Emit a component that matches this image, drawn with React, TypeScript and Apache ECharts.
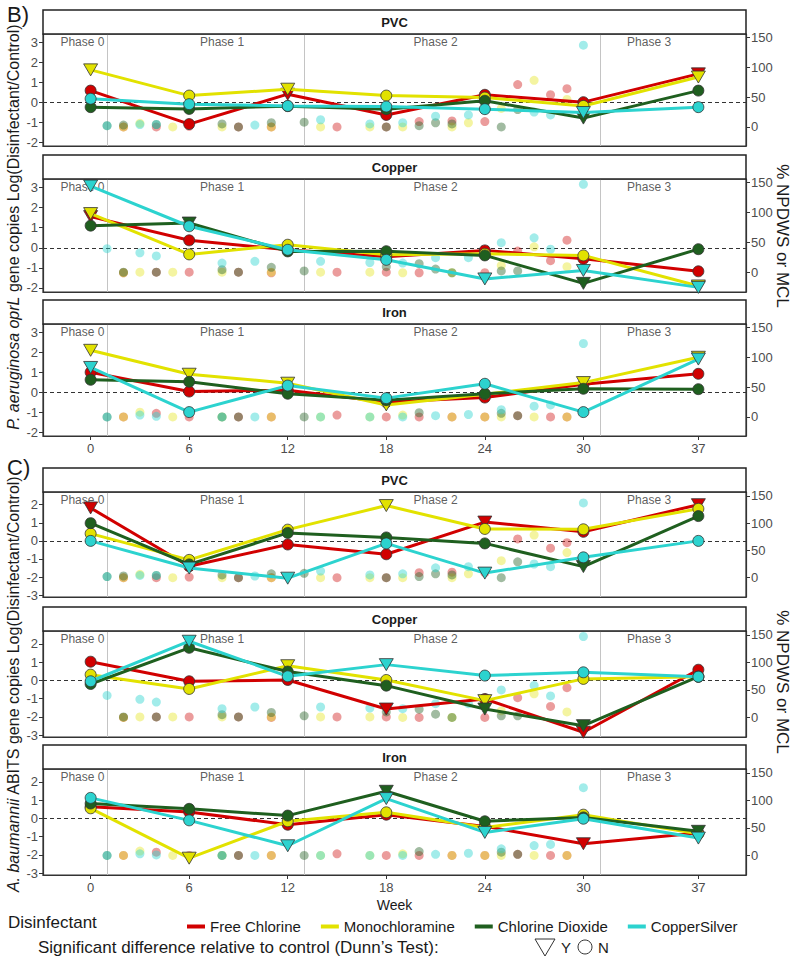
import React, { useEffect, useRef } from "react";
import * as echarts from "echarts";

const weeks = [0, 6, 12, 18, 24, 30, 37];
const disinfectants = ["Free Chlorine", "Monochloramine", "Chlorine Dioxide", "CopperSilver"];
const lineColors = ["#d10000", "#e2e200", "#1f5f1f", "#2cd3cf"];
const dotColors = ["rgba(209,30,30,0.55)", "rgba(230,230,40,0.55)", "rgba(40,100,40,0.55)", "rgba(44,211,207,0.55)"];
const materials = ["PVC", "Copper", "Iron"];
const phaseNames = ["Phase 0", "Phase 1", "Phase 2", "Phase 3"];
const phaseLabelWeeks = [-0.5, 8, 21, 34];
const phaseBoundaryWeeks = [1, 13, 31];
const xTicks = [0, 6, 12, 18, 24, 30, 37];
const leftTicksB = [-2, -1, 0, 1, 2, 3];
const leftTicksC = [-3, -2, -1, 0, 1, 2];
const rightTicks = [0, 50, 100, 150];

// ---- B) P. aeruginosa oprL : Log(Disinfectant/Control) ----
const bPvcFC = [0.58, -1.1, 0.4, -0.64, 0.37, 0.0, 1.42];
const bPvcFCSig = "NNYNNNY";
const bPvcMC = [1.62, 0.33, 0.65, 0.33, 0.23, -0.19, 1.26];
const bPvcMCSig = "YNYNNNY";
const bPvcCD = [-0.25, -0.34, -0.2, -0.35, 0.07, -0.8, 0.58];
const bPvcCDSig = "NNNNNYN";
const bPvcCS = [0.17, -0.1, -0.19, -0.22, -0.35, -0.52, -0.25];
const bPvcCSSig = "NNNNNYN";

const bCuFC = [1.55, 0.37, -0.1, -0.45, -0.13, -0.55, -1.17];
const bCuFCSig = "YNNNNNN";
const bCuMC = [1.7, -0.33, 0.15, -0.35, -0.3, -0.38, -1.9];
const bCuMCSig = "YNNNNNY";
const bCuCD = [1.1, 1.23, -0.18, -0.17, -0.38, -1.77, -0.07];
const bCuCDSig = "NYNNNYN";
const bCuCS = [3.07, 1.07, -0.1, -0.6, -1.55, -1.13, -1.97];
const bCuCSSig = "YNNNYYY";

const bFeFC = [1.0, 0.03, 0.1, -0.5, -0.27, 0.4, 0.92];
const bFeFCSig = "NNNNNNN";
const bFeMC = [2.1, 0.9, 0.45, -0.64, -0.1, 0.48, 1.75];
const bFeMCSig = "YYYYNYY";
const bFeCD = [0.62, 0.52, -0.08, -0.4, -0.08, 0.17, 0.15];
const bFeCDSig = "NNNNNNN";
const bFeCS = [1.24, -1.0, 0.33, -0.3, 0.42, -1.0, 1.66];
const bFeCSSig = "YNNNNNY";

// ---- C) A. baumannii ABITS : Log(Disinfectant/Control) ----
const cPvcFC = [1.82, -1.4, -0.2, -0.74, 1.04, 0.5, 2.0];
const cPvcFCSig = "YNNNYNY";
const cPvcMC = [0.4, -1.05, 0.62, 1.95, 0.66, 0.64, 1.77];
const cPvcMCSig = "NNNYNNN";
const cPvcCD = [0.98, -1.3, 0.44, 0.19, -0.14, -1.42, 1.37];
const cPvcCDSig = "NNNNNYN";
const cPvcCS = [0.0, -1.5, -2.06, -0.14, -1.78, -0.91, 0.0];
const cPvcCSSig = "NYYNYNN";

const cCuFC = [1.02, -0.05, 0.02, -1.57, -1.02, -2.84, 0.58];
const cCuFCSig = "NNNYNYN";
const cCuMC = [0.31, -0.47, 0.8, 0.02, -1.11, 0.08, 0.2];
const cCuMCSig = "NNYNYNN";
const cCuCD = [-0.2, 1.78, 0.48, -0.29, -1.57, -2.48, 0.2];
const cCuCDSig = "NNNNYYN";
const cCuCS = [-0.05, 2.14, 0.22, 0.86, 0.26, 0.44, 0.2];
const cCuCSSig = "NYNYNNN";

const cFeFC = [0.63, 0.35, -0.35, 0.2, -0.44, -1.39, -0.8];
const cFeFCSig = "NNNNNYN";
const cFeMC = [0.55, -2.18, -0.16, 0.33, -0.5, 0.2, -0.85];
const cFeMCSig = "NYNNNNN";
const cFeCD = [0.81, 0.52, 0.15, 1.48, -0.16, 0.05, -0.71];
const cFeCDSig = "NNNYNNY";
const cFeCS = [1.12, -0.11, -1.5, 1.08, -0.77, -0.02, -1.08];
const cFeCSSig = "NNYYYNY";

// ---- % NPDWS or MCL (water quality) : [week, value] ----
const pvcDotsFC = [[2, 0], [4, 0], [6, 1], [9, 0], [11, 0], [15, 0], [18, 0], [20, 9], [22, 10], [24, 9], [26, 71], [28, 54], [29, 64]];
const pvcDotsMC = [[2, 0], [3, 6], [5, 0], [8, 0], [11, 0], [14, 0], [17, 0], [19, 0], [22, 0], [23, 7], [25, 31], [27, 78], [29, 46]];
const pvcDotsCD = [[1, 2], [2, 3], [4, 4], [8, 5], [9, 0], [11, 7], [13, 8], [18, 0], [20, 2], [21, 7], [22, 5], [25, 0], [26, 29]];
const pvcDotsCS = [[1, 2], [3, 4], [4, 4], [10, 3], [14, 12], [17, 5], [19, 7], [21, 18], [23, 20], [27, 25], [28, 20], [30, 137]];

const cuDotsFC = [[2, 0], [4, 1], [6, 1], [9, 1], [11, 0], [15, 1], [18, 1], [20, 0], [24, 0], [26, 36], [28, 20], [29, 54]];
const cuDotsMC = [[2, 0], [3, 1], [5, 1], [8, 1], [11, 1], [14, 1], [17, 1], [19, 0], [22, 0], [25, 12], [27, 43], [29, 10]];
const cuDotsCD = [[2, 1], [4, 1], [8, 5], [9, 1], [11, 9], [13, 3], [18, 10], [20, 15], [21, 6], [22, 0], [25, 3], [26, 3]];
const cuDotsCS = [[1, 40], [3, 33], [4, 28], [8, 16], [10, 19], [14, 19], [17, 17], [19, 16], [21, 25], [23, 25], [25, 50], [27, 58], [28, 39], [30, 147]];

const feDotsFC = [[2, 0], [4, 6], [6, 0], [9, 0], [11, 0], [15, 3], [18, 0], [20, 0], [22, 0], [24, 0], [26, 2], [28, 0], [29, 0]];
const feDotsMC = [[2, 0], [3, 8], [5, 0], [8, 0], [11, 0], [14, 0], [17, 0], [19, 3], [22, 0], [24, 0], [25, 0], [27, 0], [29, 0]];
const feDotsCD = [[1, 0], [8, 0], [9, 0], [13, 0], [20, 7], [25, 6], [26, 2]];
const feDotsCS = [[1, 0], [3, 3], [4, 1], [8, 0], [10, 0], [14, 0], [17, 0], [19, 0], [21, 2], [23, 4], [25, 12], [27, 18], [28, 20], [30, 123]];

const FONT = "'Liberation Sans', Arial, Helvetica, sans-serif";

type Panel = {
  material: string;
  lines: [number[], string][];
  dots: number[][][];
  section: "B" | "C";
};

const panels: Panel[] = [
  { section: "B", material: materials[0], lines: [[bPvcFC, bPvcFCSig], [bPvcMC, bPvcMCSig], [bPvcCD, bPvcCDSig], [bPvcCS, bPvcCSSig]], dots: [pvcDotsFC, pvcDotsMC, pvcDotsCD, pvcDotsCS] },
  { section: "B", material: materials[1], lines: [[bCuFC, bCuFCSig], [bCuMC, bCuMCSig], [bCuCD, bCuCDSig], [bCuCS, bCuCSSig]], dots: [cuDotsFC, cuDotsMC, cuDotsCD, cuDotsCS] },
  { section: "B", material: materials[2], lines: [[bFeFC, bFeFCSig], [bFeMC, bFeMCSig], [bFeCD, bFeCDSig], [bFeCS, bFeCSSig]], dots: [feDotsFC, feDotsMC, feDotsCD, feDotsCS] },
  { section: "C", material: materials[0], lines: [[cPvcFC, cPvcFCSig], [cPvcMC, cPvcMCSig], [cPvcCD, cPvcCDSig], [cPvcCS, cPvcCSSig]], dots: [pvcDotsFC, pvcDotsMC, pvcDotsCD, pvcDotsCS] },
  { section: "C", material: materials[1], lines: [[cCuFC, cCuFCSig], [cCuMC, cCuMCSig], [cCuCD, cCuCDSig], [cCuCS, cCuCSSig]], dots: [cuDotsFC, cuDotsMC, cuDotsCD, cuDotsCS] },
  { section: "C", material: materials[2], lines: [[cFeFC, cFeFCSig], [cFeMC, cFeMCSig], [cFeCD, cFeCDSig], [cFeCS, cFeCSSig]], dots: [feDotsFC, feDotsMC, feDotsCD, feDotsCS] },
];

// layout (pixels)
const GRID_LEFT = 43;
const GRID_RIGHT = 45;
const STRIP_H = 24;
const layout = [
  { top: 34, height: 112 },
  { top: 179, height: 113 },
  { top: 324, height: 112 },
  { top: 492, height: 105 },
  { top: 631, height: 106 },
  { top: 769, height: 106 },
];
const rangeB = { lmin: -2.2, lmax: 3.42, rmin: -32, rmax: 155.7 };
const rangeC = { lmin: -3.1, lmax: 2.7, rmin: -35.5, rmax: 157 };

function buildOption() {
  const grid: any[] = [];
  const xAxis: any[] = [];
  const yAxis: any[] = [];
  const series: any[] = [];
  const graphic: any[] = [];

  const tickLabel = { fontSize: 13, color: "#4d4d4d", fontFamily: FONT };

  panels.forEach((p, i) => {
    const l = layout[i];
    const r = p.section === "B" ? rangeB : rangeC;
    const isBottom = i === 2 || i === 5;
    grid.push({
      left: GRID_LEFT,
      right: GRID_RIGHT,
      top: l.top,
      height: l.height,
      show: true,
      borderColor: "#333",
      borderWidth: 1.2,
      containLabel: false,
      outerBoundsMode: "none",
    });
    xAxis.push({
      type: "value",
      gridIndex: i,
      min: -2.9,
      max: 39.9,
      splitLine: { show: false },
      axisLine: { show: true, onZero: false, lineStyle: { color: "#333", width: 1.2 } },
      axisTick: { show: isBottom, customValues: xTicks, length: 4, lineStyle: { color: "#333" } },
      axisLabel: { show: isBottom, customValues: xTicks, margin: 6, ...tickLabel },
      name: i === 5 ? "Week" : "",
      nameLocation: "middle",
      nameGap: 23,
      nameTextStyle: { fontSize: 14, color: "#1a1a1a", fontFamily: FONT },
    });
    const lt = p.section === "B" ? leftTicksB : leftTicksC;
    yAxis.push({
      type: "value",
      gridIndex: i,
      position: "left",
      min: r.lmin,
      max: r.lmax,
      splitLine: { show: false },
      axisLine: { show: true, onZero: false, lineStyle: { color: "#333", width: 1.2 } },
      axisTick: { show: true, customValues: lt, length: 4, lineStyle: { color: "#333" } },
      axisLabel: { show: true, customValues: lt, margin: 5, ...tickLabel },
    });
    yAxis.push({
      type: "value",
      gridIndex: i,
      position: "right",
      min: r.rmin,
      max: r.rmax,
      splitLine: { show: false },
      axisLine: { show: true, onZero: false, lineStyle: { color: "#333", width: 1.2 } },
      axisTick: { show: true, customValues: rightTicks, length: 4, lineStyle: { color: "#333" } },
      axisLabel: { show: true, customValues: rightTicks, margin: 5, ...tickLabel },
    });

    // phase labels + phase boundaries + zero line
    const pxPerUnit = l.height / (r.lmax - r.lmin);
    const labelY = r.lmax - 8 / pxPerUnit;
    series.push({
      type: "scatter",
      name: "phase-" + i,
      xAxisIndex: i,
      yAxisIndex: 2 * i,
      symbol: "circle",
      symbolSize: 1,
      itemStyle: { color: "transparent" },
      z: 1,
      silent: true,
      data: phaseNames.map((n, k) => ({ name: n, value: [phaseLabelWeeks[k], labelY] })),
      label: { show: true, position: "inside", formatter: "{b}", fontSize: 12, color: "#333", fontFamily: FONT },
      markLine: {
        silent: true,
        symbol: "none",
        label: { show: false },
        z: 1,
        data: [
          ...phaseBoundaryWeeks.map((w) => ({ xAxis: w, lineStyle: { color: "#c4c4c4", width: 1, type: "solid" } })),
          { yAxis: 0, lineStyle: { color: "#333", width: 1, type: [4, 3] } },
        ],
      },
    });

    // water-quality dots (right axis)
    p.dots.forEach((d, k) => {
      series.push({
        type: "scatter",
        name: disinfectants[k] + " (% NPDWS)",
        xAxisIndex: i,
        yAxisIndex: 2 * i + 1,
        symbolSize: 9,
        z: 2,
        itemStyle: { color: dotColors[k] },
        data: d,
      });
    });

    // gene copy ratio lines (left axis)
    p.lines.forEach(([vals, sig], k) => {
      series.push({
        type: "line",
        name: disinfectants[k],
        xAxisIndex: i,
        yAxisIndex: 2 * i,
        z: 3 + k,
        showAllSymbol: true,
        lineStyle: { color: lineColors[k], width: 3 },
        itemStyle: { color: lineColors[k], borderColor: "#333", borderWidth: 0.8 },
        data: weeks.map((w, j) => {
          const y = sig[j] === "Y";
          return {
            value: [w, vals[j]],
            symbol: y ? "triangle" : "circle",
            symbolRotate: y ? 180 : 0,
            symbolSize: y ? [14, 12] : 11,
          };
        }),
      });
    });

    // strip header
    graphic.push({
      type: "rect",
      shape: { x: GRID_LEFT, y: l.top - STRIP_H, width: 791 - GRID_LEFT - GRID_RIGHT, height: STRIP_H },
      style: { fill: "#ffffff", stroke: "#222", lineWidth: 1.5 },
      z: 10,
    });
    graphic.push({
      type: "text",
      x: GRID_LEFT + (791 - GRID_LEFT - GRID_RIGHT) / 2,
      y: l.top - STRIP_H / 2,
      style: { text: p.material, fontSize: 13, fontWeight: "bold", fill: "#1a1a1a", fontFamily: FONT, align: "center", verticalAlign: "middle" },
      z: 11,
    });
  });

  // section labels
  graphic.push({ type: "text", x: 7, y: 14, style: { text: "B)", fontSize: 22, fill: "#1a1a1a", fontFamily: FONT, verticalAlign: "middle" } });
  graphic.push({ type: "text", x: 7, y: 467, style: { text: "C)", fontSize: 22, fill: "#1a1a1a", fontFamily: FONT, verticalAlign: "middle" } });

  // left axis titles
  const rich = { i: { fontStyle: "italic", fontSize: 16, fontFamily: FONT, fill: "#1a1a1a" } };
  graphic.push({
    type: "text",
    x: 13,
    y: 227,
    rotation: Math.PI / 2,
    style: { text: "{i|P. aeruginosa} {i|oprL} gene copies Log(Disinfectant/Control)", rich, fontSize: 16, fill: "#1a1a1a", fontFamily: FONT, align: "center", verticalAlign: "middle" },
  });
  graphic.push({
    type: "text",
    x: 13,
    y: 684,
    rotation: Math.PI / 2,
    style: { text: "{i|A. baumannii} ABITS gene copies Log(Disinfectant/Control)", rich, fontSize: 16, fill: "#1a1a1a", fontFamily: FONT, align: "center", verticalAlign: "middle" },
  });
  // right axis titles
  graphic.push({
    type: "text", x: 782, y: 236, rotation: -Math.PI / 2,
    style: { text: "% NPDWS or MCL", fontSize: 17, fill: "#1a1a1a", fontFamily: FONT, align: "center", verticalAlign: "middle" },
  });
  graphic.push({
    type: "text", x: 782, y: 682, rotation: -Math.PI / 2,
    style: { text: "% NPDWS or MCL", fontSize: 17, fill: "#1a1a1a", fontFamily: FONT, align: "center", verticalAlign: "middle" },
  });

  // legend titles and significance key
  graphic.push({ type: "text", x: 8, y: 922, style: { text: "Disinfectant", fontSize: 17, fill: "#1a1a1a", fontFamily: FONT, verticalAlign: "middle" } });
  graphic.push({ type: "text", x: 38, y: 947, style: { text: "Significant difference relative to control (Dunn\u2019s Test):", fontSize: 17, fill: "#1a1a1a", fontFamily: FONT, verticalAlign: "middle" } });
  graphic.push({ type: "polygon", shape: { points: [[535, 939], [555, 939], [545, 956]] }, style: { fill: "none", stroke: "#333", lineWidth: 1 } });
  graphic.push({ type: "text", x: 561, y: 947, style: { text: "Y", fontSize: 15, fill: "#1a1a1a", fontFamily: FONT, verticalAlign: "middle" } });
  graphic.push({ type: "circle", shape: { cx: 585, cy: 947, r: 7 }, style: { fill: "none", stroke: "#333", lineWidth: 1 } });
  graphic.push({ type: "text", x: 598, y: 947, style: { text: "N", fontSize: 15, fill: "#1a1a1a", fontFamily: FONT, verticalAlign: "middle" } });

  return {
    animation: false,
    backgroundColor: "#ffffff",
    grid,
    xAxis,
    yAxis,
    series,
    graphic,
    legend: {
      data: disinfectants.map((n) => ({ name: n, icon: "rect" })),
      left: 182,
      top: 914,
      itemWidth: 18,
      itemHeight: 4,
      itemGap: 20,
      selectedMode: false,
      itemStyle: { borderWidth: 0 },
      textStyle: { fontSize: 15, color: "#1a1a1a", fontFamily: FONT },
    },
  };
}

export default function App() {
  const ref = useRef<HTMLDivElement>(null);
  useEffect(() => {
    if (!ref.current) return;
    const chart = echarts.init(ref.current, undefined, { renderer: "svg" });
    chart.setOption(buildOption() as any);
    return () => chart.dispose();
  }, []);
  return <div ref={ref} style={{ position: "absolute", left: 0, top: 0, width: 791, height: 963 }} />;
}
